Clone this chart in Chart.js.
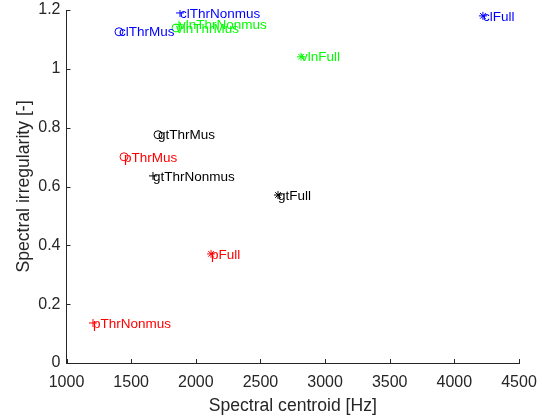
<!DOCTYPE html>
<html>
<head>
<meta charset="utf-8">
<script src="https://cdn.jsdelivr.net/npm/chart.js@4"></script>
<style>
  html, body { margin: 0; padding: 0; background: #fff; }
  #wrap { width: 542px; height: 417px; }
</style>
</head>
<body>
<div id="wrap"><canvas id="scatter"></canvas></div>
<script>
// conditions shared by every instrument (order of the points in each array)
const conditions = ['ThrNonmus', 'ThrMus', 'Full'];

// spectral centroid [Hz] and spectral irregularity [-] per instrument
const clCentroid = [1878, 1406, 4221];
const clIrregularity = [1.190, 1.126, 1.180];

const vlnCentroid = [1870, 1847, 2814];
const vlnIrregularity = [1.150, 1.139, 1.041];

const gtCentroid = [1669, 1708, 2636];
const gtIrregularity = [0.636, 0.776, 0.571];

const pCentroid = [1205, 1445, 2118];
const pIrregularity = [0.136, 0.701, 0.371];

const xTicks = [1000, 1500, 2000, 2500, 3000, 3500, 4000, 4500];
const yTicks = [0, 0.2, 0.4, 0.6, 0.8, 1, 1.2];

const axisColor = '#262626';
const fontFamily = '"Liberation Sans", Arial, Helvetica, sans-serif';
const markerStyles = ['cross', 'circle', 'star'];

function makeSet(name, xs, ys, color) {
    return {
        label: name,
        data: xs.map((x, i) => ({ x: x, y: ys[i], text: name + conditions[i] })),
        pointStyle: markerStyles,
        pointRadius: 4,
        pointHoverRadius: 4,
        borderColor: color,
        backgroundColor: 'transparent',
        borderWidth: 1,
        textColor: color
    };
}

// text next to each marker, left edge on the marker centre
const pointLabels = {
    id: 'pointLabels',
    afterDatasetsDraw(chart) {
        const ctx = chart.ctx;
        const xs = chart.scales.x, ys = chart.scales.y;
        ctx.save();
        ctx.font = '13.5px ' + fontFamily;
        ctx.textAlign = 'left';
        ctx.textBaseline = 'middle';
        chart.data.datasets.forEach(ds => {
            ctx.fillStyle = ds.textColor;
            ds.data.forEach(p => {
                ctx.fillText(p.text, xs.getPixelForValue(p.x), ys.getPixelForValue(p.y) + 1);
            });
        });
        ctx.restore();
    }
};

// inward tick marks, MATLAB style
const innerTicks = {
    id: 'innerTicks',
    afterDraw(chart) {
        const ctx = chart.ctx;
        const a = chart.chartArea;
        const xs = chart.scales.x, ys = chart.scales.y;
        ctx.save();
        ctx.strokeStyle = axisColor;
        ctx.lineWidth = 1;
        ctx.beginPath();
        xTicks.forEach(v => {
            const px = Math.round(xs.getPixelForValue(v)) + 0.5;
            ctx.moveTo(px, a.bottom);
            ctx.lineTo(px, a.bottom - 4);
        });
        yTicks.forEach(v => {
            const py = Math.round(ys.getPixelForValue(v)) + 0.5;
            ctx.moveTo(a.left, py);
            ctx.lineTo(a.left + 4, py);
        });
        ctx.stroke();
        ctx.restore();
    }
};

new Chart(document.getElementById('scatter'), {
    type: 'scatter',
    data: {
        datasets: [
            makeSet('cl', clCentroid, clIrregularity, '#0000ff'),
            makeSet('vln', vlnCentroid, vlnIrregularity, '#00ff00'),
            makeSet('gt', gtCentroid, gtIrregularity, '#000000'),
            makeSet('p', pCentroid, pIrregularity, '#ff0000')
        ]
    },
    options: {
        responsive: true,
        maintainAspectRatio: false,
        animation: false,
        layout: { padding: { left: 0, right: 23, top: 10, bottom: 0 } },
        plugins: {
            legend: { display: false },
            tooltip: { enabled: false }
        },
        scales: {
            x: {
                type: 'linear',
                min: 1000,
                max: 4500,
                afterBuildTicks: scale => { scale.ticks = xTicks.map(v => ({ value: v })); },
                afterFit: scale => {
                    scale.height = 54;
                    scale.paddingLeft = 0;
                    scale.paddingRight = 0;
                },
                grid: { display: false, drawTicks: false },
                border: { display: true, color: axisColor, width: 1 },
                ticks: {
                    color: axisColor,
                    padding: 10,
                    maxRotation: 0,
                    font: { family: fontFamily, size: 16 },
                    callback: v => String(v)
                },
                title: {
                    display: true,
                    text: 'Spectral centroid [Hz]',
                    color: axisColor,
                    font: { family: fontFamily, size: 17.6 },
                    padding: { top: 0, bottom: 0 }
                }
            },
            y: {
                type: 'linear',
                min: 0,
                max: 1.2,
                afterBuildTicks: scale => { scale.ticks = yTicks.map(v => ({ value: v })); },
                afterFit: scale => {
                    scale.width = 66.5;
                    scale.paddingTop = 0;
                    scale.paddingBottom = 0;
                },
                grid: { display: false, drawTicks: false },
                border: { display: true, color: axisColor, width: 1 },
                ticks: {
                    color: axisColor,
                    padding: 6,
                    font: { family: fontFamily, size: 16 },
                    callback: v => String(Math.round(v * 10) / 10)
                },
                title: {
                    display: true,
                    text: 'Spectral irregularity [-]',
                    color: axisColor,
                    font: { family: fontFamily, size: 17.6 },
                    padding: { top: 14, bottom: 0 }
                }
            }
        }
    },
    plugins: [pointLabels, innerTicks]
});
</script>
</body>
</html>
